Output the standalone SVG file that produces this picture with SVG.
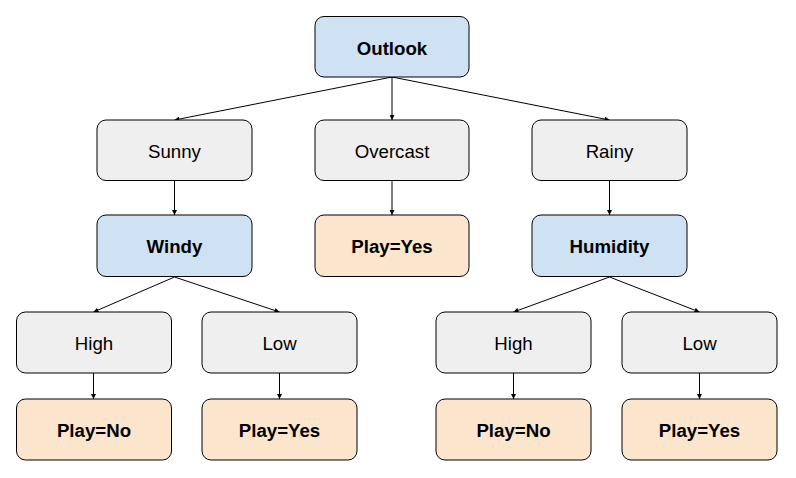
<svg xmlns="http://www.w3.org/2000/svg" width="796" height="478" viewBox="0 0 796 478">
  <style>
    .box rect { stroke: #000; stroke-width: 1; }
    .split rect { fill: #cfe2f3; }
    .value rect { fill: #efefef; }
    .leaf rect { fill: #fce5cd; }
    text { font-family: "Liberation Sans", Arial, sans-serif; font-size: 18.67px; text-anchor: middle; fill: #000; }
    .split text, .leaf text { font-weight: bold; }
    #edges line { stroke: #000; stroke-width: 1; marker-end: url(#arrow); }
  </style>
  <defs>
    <marker id="arrow" viewBox="0 0 10 10" refX="10" refY="5" markerWidth="5" markerHeight="5" markerUnits="userSpaceOnUse" orient="auto">
      <path d="M0,0 L10,5 L0,10 z" fill="#000"/>
    </marker>
  </defs>

  <g id="edges">
    <line x1="392" y1="77" x2="174.5" y2="120"/>
    <line x1="392" y1="77" x2="392" y2="120"/>
    <line x1="392" y1="77" x2="609.5" y2="120"/>
    <line x1="174.5" y1="181" x2="174.5" y2="215"/>
    <line x1="392" y1="181" x2="392" y2="215"/>
    <line x1="609.5" y1="181" x2="609.5" y2="215"/>
    <line x1="174.5" y1="277" x2="93.5" y2="312"/>
    <line x1="174.5" y1="277" x2="279.5" y2="312"/>
    <line x1="609.5" y1="277" x2="513.5" y2="312"/>
    <line x1="609.5" y1="277" x2="699.5" y2="312"/>
    <line x1="93.5" y1="373" x2="93.5" y2="399"/>
    <line x1="279.5" y1="373" x2="279.5" y2="399"/>
    <line x1="513.5" y1="373" x2="513.5" y2="399"/>
    <line x1="699.5" y1="373" x2="699.5" y2="399"/>
  </g>

  <g id="outlook" class="box split"><rect x="315" y="16.5" width="154" height="60.5" rx="9"/><text x="392" y="54.5">Outlook</text></g>

  <g id="sunny" class="box value"><rect x="97" y="120" width="155" height="60.5" rx="9"/><text x="174.5" y="157.5">Sunny</text></g>
  <g id="overcast" class="box value"><rect x="315" y="120" width="154" height="60.5" rx="9"/><text x="392" y="157.5">Overcast</text></g>
  <g id="rainy" class="box value"><rect x="532" y="120" width="155" height="60.5" rx="9"/><text x="609.5" y="157.5">Rainy</text></g>

  <g id="windy" class="box split"><rect x="97" y="215" width="155" height="61.5" rx="9"/><text x="174.5" y="252.5">Windy</text></g>
  <g id="play-yes-overcast" class="box leaf"><rect x="315" y="215" width="154" height="61.5" rx="9"/><text x="392" y="252.5">Play=Yes</text></g>
  <g id="humidity" class="box split"><rect x="532" y="215" width="155" height="61.5" rx="9"/><text x="609.5" y="252.5">Humidity</text></g>

  <g id="windy-high" class="box value"><rect x="16.5" y="312" width="155" height="61" rx="9"/><text x="94" y="349.5">High</text></g>
  <g id="windy-low" class="box value"><rect x="202" y="312" width="155" height="61" rx="9"/><text x="279.5" y="349.5">Low</text></g>
  <g id="humidity-high" class="box value"><rect x="436" y="312" width="155" height="61" rx="9"/><text x="513.5" y="349.5">High</text></g>
  <g id="humidity-low" class="box value"><rect x="622" y="312" width="155" height="61" rx="9"/><text x="699.5" y="349.5">Low</text></g>

  <g id="play-no-windy" class="box leaf"><rect x="16.5" y="399" width="155" height="61" rx="9"/><text x="94" y="436.5">Play=No</text></g>
  <g id="play-yes-windy" class="box leaf"><rect x="202" y="399" width="155" height="61" rx="9"/><text x="279.5" y="436.5">Play=Yes</text></g>
  <g id="play-no-humidity" class="box leaf"><rect x="436" y="399" width="155" height="61" rx="9"/><text x="513.5" y="436.5">Play=No</text></g>
  <g id="play-yes-humidity" class="box leaf"><rect x="622" y="399" width="155" height="61" rx="9"/><text x="699.5" y="436.5">Play=Yes</text></g>
</svg>
